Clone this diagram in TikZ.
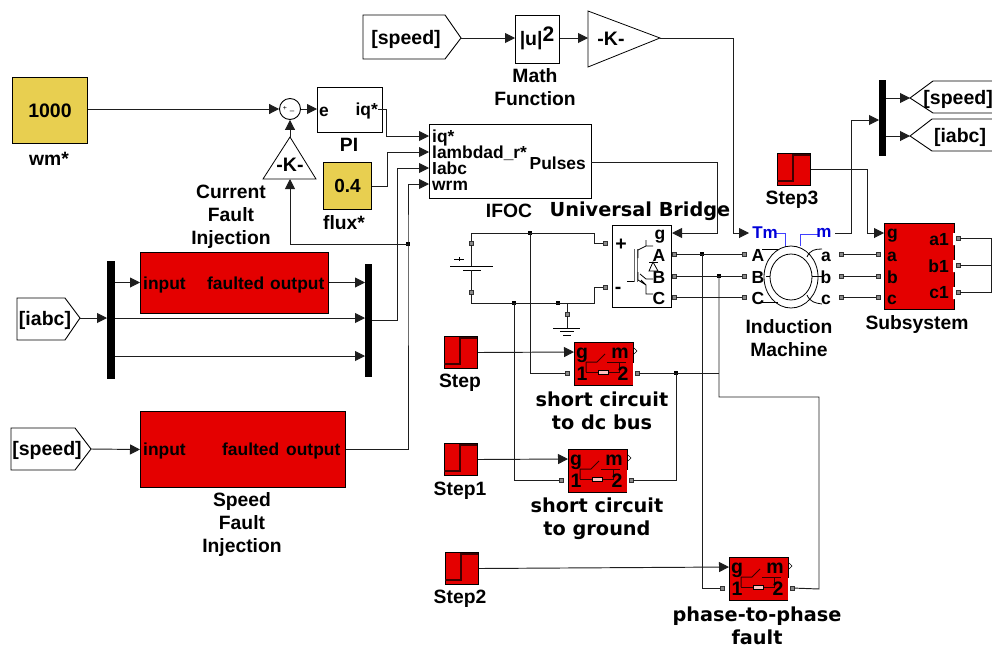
\documentclass[tikz,border=0pt]{standalone}
\usepackage{fontspec}
\setmainfont{Liberation Sans}[BoldFont={Liberation Sans Bold}]
\newfontfamily\vfont{DejaVu Sans Bold}
\usetikzlibrary{arrows.meta}
\definecolor{simred}{HTML}{E40000}
\definecolor{simgold}{HTML}{E8CF50}
\definecolor{wirec}{HTML}{1E1E1E}
\definecolor{portc}{HTML}{8A8A8A}
\tikzset{
  wire/.style={draw=wirec,line width=0.95pt},
  arw/.style={wire,-{Triangle[length=10pt,width=10pt]}},
  blk/.style={draw=black,line width=1pt,inner sep=0pt,rectangle,anchor=north west},
  redblk/.style={blk,fill=simred},
  goldblk/.style={blk,fill=simgold},
  wht/.style={blk,fill=white},
  barb/.style={fill=black,draw=none,inner sep=0pt,rectangle,anchor=north west},
  portp/.style={rectangle,draw=black!80,fill=portc,line width=0.7pt,inner sep=0pt,minimum size=4pt},
  jdot/.style={rectangle,fill=black,inner sep=0pt,minimum size=4pt},
  lbl/.style={font=\fontsize{19.3}{23}\selectfont\bfseries,inner sep=0pt,align=center},
  ins/.style={font=\fontsize{17.4}{18}\selectfont\bfseries,inner sep=0pt,text height=13.5pt,text depth=1.5pt},
  brk/.style={font=\fontsize{19.5}{20}\selectfont\bfseries,inner sep=0pt,text height=13.5pt,text depth=1.5pt},
  wlbl/.style={font=\fontsize{19.3}{23}\selectfont\vfont,inner sep=0pt,align=center},
  tagl/.style={font=\fontsize{19.5}{20}\selectfont\bfseries,inner sep=0pt,text height=13.5pt,text depth=1.5pt},
  tagp/.style={draw=black,line width=0.9pt,fill=white},
  motl/.style={font=\fontsize{17.5}{18}\selectfont\bfseries,inner sep=0pt,text height=13.5pt,text depth=1.5pt},
  blu/.style={font=\fontsize{17}{18}\selectfont\bfseries,text=blue!85!black,inner sep=0pt},
  blw/.style={draw=blue!75,line width=1pt},
  thin/.style={draw=black,line width=0.8pt},
}
\newcommand{\stepblk}[3]{% name, x, y
  \node[redblk,minimum width=33pt,minimum height=32pt] (#1) at (#2,#3) {};
  \begin{scope}[shift={(#2,#3)}]
    \draw[line width=1.1pt,draw=black!75!red] (0,28) -- (16,28) -- (16,2) -- (33,2);
  \end{scope}}
\newcommand{\breaker}[3]{% name, x, y
  \node[redblk,minimum width=59pt,minimum height=43pt] (#1) at (#2,#3) {};
  \begin{scope}[shift={(#2,#3)}]
    \fill[white] (58.5,21) rectangle (60.5,44);
    \draw[line width=0.6pt] (60,6) -- (63,9) -- (60,12);
    \draw[line width=1pt,draw=black!80!red] (12,30) -- (12,20) -- (23,20) -- (31,12);
    \draw[line width=1pt,draw=black!80!red] (33,20) -- (52,20) (45,20) -- (45,30) -- (12,30);
    \draw[line width=0.9pt,fill=red!25] (24,28) rectangle (34,32);
    \node[brk] at (8,10) {g};
    \node[brk] at (46,10) {m};
    \node[brk] at (8,32) {1};
    \node[brk] at (49,32) {2};
    \node[portp] (#1-p1) at (-6.5,31) {};
    \node[portp] (#1-p2) at (63,31) {};
    \coordinate (#1-g) at (0,10);
  \end{scope}}
\begin{document}
\begin{tikzpicture}[x=1pt,y=-1pt]
\useasboundingbox (0,0) rectangle (992,648);

% ---------- blocks
\node[goldblk,minimum width=75pt,minimum height=66pt,font=\fontsize{19.5}{20}\selectfont\bfseries] (wm) at (12,77) {1000};
\node[lbl] (wmL) at (49,159) {wm*};
\node[circle,draw=black,line width=0.9pt,fill=white,minimum size=21pt,inner sep=0pt] (sum) at (290,109) {};
\node[inner sep=0pt,font=\fontsize{7}{7}\selectfont] (sumP) at (285,108) {+};
\node[inner sep=0pt,font=\fontsize{8}{8}\selectfont] (sumM) at (292,112) {--};
\node[wht,minimum width=65pt,minimum height=45pt] (pi) at (317,87) {};
\node[ins] (piE) at (324,110) {e};
\node[ins,anchor=east] (piQ) at (378,109) {iq*};
\node[lbl] (piL) at (349,145) {PI};
\node[goldblk,minimum width=48pt,minimum height=47pt,font=\fontsize{19}{20}\selectfont\bfseries] (flux) at (323,162) {0.4};
\node[lbl] (fluxL) at (344,223) {flux*};
\draw[thin,fill=white] (290,137) -- (316,179) -- (263,179) -- cycle;
\node[ins,font=\fontsize{19.5}{20}\selectfont\bfseries] (kf) at (290,165) {-K-};
\coordinate (kfTop) at (290,137);
\coordinate (kfBot) at (290,179);
\node[lbl] (cfiL) at (231,217) {Current\\Fault\\Injection};

\node[wht,minimum width=162pt,minimum height=74pt] (ifoc) at (429,124) {};
\node[ins,anchor=west] (t1) at (432,136) {iq*};
\node[ins,anchor=west] (t2) at (432,152) {lambdad\_r*};
\node[ins,anchor=west] (t3) at (432,168) {Iabc};
\node[ins,anchor=west] (t4) at (432,184) {wrm};
\node[ins,anchor=east] (t5) at (586,163) {Pulses};
\coordinate (ifocA) at (429,136);
\coordinate (ifocB) at (429,152);
\coordinate (ifocC) at (429,168);
\coordinate (ifocD) at (429,184);
\coordinate (ifocP) at (591,162);
\node[lbl] (ifocL) at (509,211) {IFOC};
\node[wlbl] (ubL) at (640,211) {Universal Bridge};

% top row
\draw[tagp] (363,15) -- (445,15) -- (461,38) -- (445,59) -- (363,59) -- cycle;
\node[tagl] (spdA) at (406,38) {[speed]};
\coordinate (spdAo) at (461,38);
\node[wht,minimum width=44pt,minimum height=48pt] (mf) at (515,15) {};
\node[tagl,anchor=center] (mfT) at (537,39) {|u|\raisebox{4pt}{\fontsize{21}{21}\selectfont 2}};
\node[lbl] (mfL) at (535,87) {Math\\Function};
\draw[thin,fill=white] (588,11) -- (660,38) -- (588,67) -- cycle;
\coordinate (kgIn) at (588,38);
\coordinate (kgOut) at (660,38);
\node[ins,font=\fontsize{19.5}{20}\selectfont\bfseries] (kg) at (611,39) {-K-};

% fault injection
\node[redblk,minimum width=188pt,minimum height=61pt] (fi) at (140,252) {};
\node[ins,anchor=west] (fi1) at (143,283) {input};
\node[ins,anchor=west] (fi2) at (207,283) {faulted};
\node[ins,anchor=west] (fi3) at (270,283) {output};
\node[barb,minimum width=8pt,minimum height=118pt] (lb) at (107,261) {};
\node[barb,minimum width=7pt,minimum height=113pt] (rb) at (365,264) {};
\coordinate (lb1) at (115,282.5);
\coordinate (lb2) at (115,318);
\coordinate (lb3) at (115,356);
\coordinate (lbIn) at (107,318);
\coordinate (rb1) at (365,282.5);
\coordinate (rb2) at (365,318);
\coordinate (rb3) at (365,356);
\coordinate (rbOut) at (372,320);
\draw[tagp] (17,298) -- (65,298) -- (80,318) -- (65,340) -- (17,340) -- cycle;
\node[tagl] (iabcA) at (45,319) {[iabc]};
\coordinate (iabcAo) at (80,318);
\draw[tagp] (11,428) -- (75,428) -- (91,449) -- (75,470) -- (11,470) -- cycle;
\node[tagl] (spdB) at (47,449) {[speed]};
\coordinate (spdBo) at (91,449);
\node[redblk,minimum width=205pt,minimum height=76pt] (sfi) at (140,411) {};
\node[ins,anchor=west] (sf1) at (143,449) {input};
\node[ins,anchor=west] (sf2) at (222,449) {faulted};
\node[ins,anchor=west] (sf3) at (286,449) {output};
\node[lbl] (sfiL) at (242,524) {Speed\\Fault\\Injection};

% dc source
\node[portp] (batT) at (471,243) {};
\node[portp] (batB) at (471,292) {};
\draw[line width=1pt] (450,266) -- (493,266) (463,270) -- (481,270) (454,259) -- (464,259) (459,257) -- (459,261);
\coordinate (batPa) at (471,266);
\coordinate (batPb) at (471,270);
\coordinate (dcT) at (594,233);
\coordinate (dcB) at (594,303);

% bridge
\node[wht,minimum width=59pt,minimum height=82pt] (ub) at (612,225) {};
\coordinate (ubG) at (672,233);
\node[tagl] (ubPl) at (621,244) {+};
\node[tagl] (ubMi) at (618,287) {-};
\node[motl] (ubg) at (660,233) {g};
\node[motl] (ubA) at (659,255) {A};
\node[motl] (ubB) at (659,277) {B};
\node[motl] (ubC) at (659,298) {C};
\draw[line width=0.8pt,draw=black!60] (634,249) -- (634,282) (637,249) -- (637,282);
\draw[line width=0.8pt] (627,281) -- (634,281);
\draw[line width=0.8pt] (646,240) -- (646,246) -- (638,250) -- (638,258)
   (646,246) -- (653,246);
\draw[line width=0.8pt] (638,272) -- (638,280) -- (646,285) -- (646,294) -- (653,294)
   (640,274) -- (646,279) -- (653,279) (646,285) -- (641,280);
\draw[line width=0.8pt,fill=white] (653,262) -- (658,271) -- (649,271) -- cycle;
\draw[line width=0.8pt] (649,262) -- (658,262);
\node[portp] (ubP) at (605,243) {};
\node[portp] (ubN) at (605,287) {};
\node[portp] (ubOa) at (674,254) {};
\node[portp] (ubOb) at (674,276) {};
\node[portp] (ubOc) at (674,297) {};

% ground
\node[portp] (gnd) at (567,314) {};
\draw[line width=0.9pt] (553,328) -- (580,328) (560,331.5) -- (574,331.5) (563,335) -- (571,335);
\coordinate (gndB) at (567,328);

% motor
\draw[line width=0.8pt] (791,277) ellipse (27 and 31);
\draw[line width=0.8pt] (791,277) ellipse (21 and 23);
\draw[line width=0.8pt] (762,249) -- (778,249) (762,302) -- (778,302) (766,276) -- (770,276);
\draw[line width=0.8pt] (807,257) .. controls (810,250) and (815,249) .. (822,249);
\draw[line width=0.8pt] (807,295) .. controls (810,302) and (815,303) .. (822,304);
\draw[line width=0.8pt] (812,276) -- (822,276);
\draw[blw] (775,233) -- (785,233) -- (785,246);
\draw[blw] (800,246) -- (800,234) -- (818,234);
\node[blu] (tm) at (765,233) {Tm};
\node[blu] (mm) at (824,233) {m};
\coordinate (tmIn) at (749,233);
\coordinate (mOut) at (835,233);
\node[motl] (mA) at (758,255) {A};
\node[motl] (mB) at (758,277) {B};
\node[motl] (mC) at (758,298) {C};
\node[motl] (ma) at (826,255) {a};
\node[motl] (mb) at (826,277) {b};
\node[motl] (mc) at (826,298) {c};
\node[portp] (mpA) at (744,254) {};
\node[portp] (mpB) at (744,276) {};
\node[portp] (mpC) at (744,297) {};
\node[portp] (mpa) at (841,254) {};
\node[portp] (mpb) at (841,276) {};
\node[portp] (mpc) at (841,297) {};
\node[lbl] (imL) at (789,338) {Induction\\Machine};

% step3 & demux
\stepblk{stp3}{777}{153}
\node[lbl] (stp3L) at (792,200) {Step3};
\node[barb,minimum width=7pt,minimum height=76pt] (dm) at (879,80) {};
\coordinate (dmIn) at (879,120);
\coordinate (dmO1) at (886,98);
\coordinate (dmO2) at (886,136);
\draw[tagp] (910,98) -- (933,81) -- (994,81) -- (994,113) -- (933,113) -- cycle;
\node[tagl,anchor=east] (spdC) at (993,98) {[speed]};
\coordinate (spdCi) at (910,98);
\draw[tagp] (910,136) -- (932,119) -- (994,119) -- (994,151) -- (932,151) -- cycle;
\node[tagl] (iabcC) at (960,136) {[iabc]};
\coordinate (iabcCi) at (910,136);

% subsystem
\node[redblk,minimum width=70pt,minimum height=86pt] (ss) at (884,223) {};
\fill[white] (953,233) rectangle (956,245) (953,260) rectangle (956,272) (953,287) rectangle (956,299);
\coordinate (ssG) at (884,233);
\node[motl,anchor=west] (ssg) at (887,232) {g};
\node[motl,anchor=west] (ssa) at (887,255) {a};
\node[motl,anchor=west] (ssb) at (887,277) {b};
\node[motl,anchor=west] (ssc) at (887,298) {c};
\node[motl,anchor=east] (ssa1) at (949,239) {a1};
\node[motl,anchor=east] (ssb1) at (949,266) {b1};
\node[motl,anchor=east] (ssc1) at (949,292) {c1};
\node[portp] (spa) at (878,254) {};
\node[portp] (spb) at (878,276) {};
\node[portp] (spc) at (878,297) {};
\node[portp] (spa1) at (958,238) {};
\node[portp] (spb1) at (958,265) {};
\node[portp] (spc1) at (958,292) {};
\coordinate (ssR) at (991,265);
\coordinate (ssRe) at (992,265);
\node[lbl] (ssL) at (917,325) {Subsystem};

% steps and breakers
\stepblk{stp}{444}{336}
\node[lbl] (stpL) at (460,383) {Step};
\stepblk{stp1}{444}{443}
\node[lbl] (stp1L) at (460,491) {Step1};
\stepblk{stp2}{445}{552}
\node[lbl] (stp2L) at (460,599) {Step2};
\breaker{brA}{574}{342}
\node[wlbl] (brAL) at (602,410.5) {short circuit\\to dc bus};
\breaker{brB}{568}{449}
\node[wlbl] (brBL) at (597,518.5) {short circuit\\to ground};
\breaker{brC}{729}{557}
\node[wlbl] (brCL) at (757,625.5) {phase-to-phase\\fault};

% junctions
\node[jdot] (j1) at (530,233) {};
\node[jdot] (j2) at (514,303) {};
\node[jdot] (j3) at (558,303) {};
\node[jdot] (j4) at (702,254) {};
\node[jdot] (j5) at (719,276) {};
\node[jdot] (j6) at (676,373) {};
\node[jdot] (j7) at (408,244) {};
\coordinate (j8) at (719,373);
\coordinate (w1) at (719,397);
\coordinate (w2) at (819,397);

% ---------- connectors
\draw[arw] (wm.east |- sum) -- (sum.west);
\draw[arw] (sum.east) -- (sum.east -| pi.west);
\draw[arw] (kfTop) -- (sum.south);
\draw[arw] (j7.center) -| (kfBot);
\draw[arw] (piQ.east) -- ++(8,0) |- (ifocA);
\draw[arw] (flux.east) -- ++(15,0) |- (ifocB);
\draw[arw] (rbOut) -| (397,168) -- (ifocC);
\draw[arw] (sfi.east) -| (j7.center) |- (ifocD);
\draw[arw] (ifocP) -- ++(126,0) |- (ubG);
\draw[arw] (spdAo) -- (spdAo -| mf.west);
\draw[arw] (kgIn -| mf.east) -- (kgIn);
\draw[wire] (kgOut) -| (733,233);
\draw[arw] (733,233) -- (tmIn);
\draw[arw] (mOut) -- (851,233) |- (dmIn);
\draw[arw] (dmO1) -- (spdCi);
\draw[arw] (dmO2) -- (iabcCi);
\draw[arw] (stp3.east) -| (867,233) -- (ssG);
\draw[wire] (ubOa) -- (mpA);
\draw[wire] (ubOb) -- (mpB);
\draw[wire] (ubOc) -- (mpC);
\draw[wire] (mpa) -- (spa);
\draw[wire] (mpb) -- (spb);
\draw[wire] (mpc) -- (spc);
\draw[wire] (spa1) -| (ssR);
\draw[wire] (spc1) -| (ssR);
\draw[wire] (spb1) -- (ssRe);
\draw[wire] (batT) -- (batPa);
\draw[wire] (batB) -- (batPb);
\draw[wire] (batT) -- (471,233) -- (dcT) -- (594,243) -- (ubP);
\draw[wire] (batB) -- (471,303) -- (dcB) -- (594,287) -- (ubN);
\draw[wire] (j3.center) -- (567,303) -- (gnd);
\draw[wire] (gnd) -- (gndB);
\draw[wire] (j1.center) |- (brA-p1);
\draw[wire] (j2.center) |- (brB-p1);
\draw[arw] (stp.east) -- (brA-g);
\draw[arw] (stp1.east) -- (brB-g);
\draw[arw] (stp2.east) -- (brC-g);
\draw[wire] (brA-p2) -- (j8);
\draw[wire] (brB-p2) -| (j6.center);
\draw[wire] (j4.center) |- (brC-p1);
\draw[wire] (j5.center) -- (w1) -- (w2) -- (819,589) -- (brC-p2);
\draw[arw] (iabcAo) -- (lbIn);
\draw[arw] (spdBo) -- (sfi.west);
\draw[arw] (lb1) -- (lb1 -| fi.west);
\draw[arw] (fi.east |- rb1) -- (rb1);
\draw[arw] (lb2) -- (rb2);
\draw[arw] (lb3) -- (rb3);
\end{tikzpicture}
\end{document}
